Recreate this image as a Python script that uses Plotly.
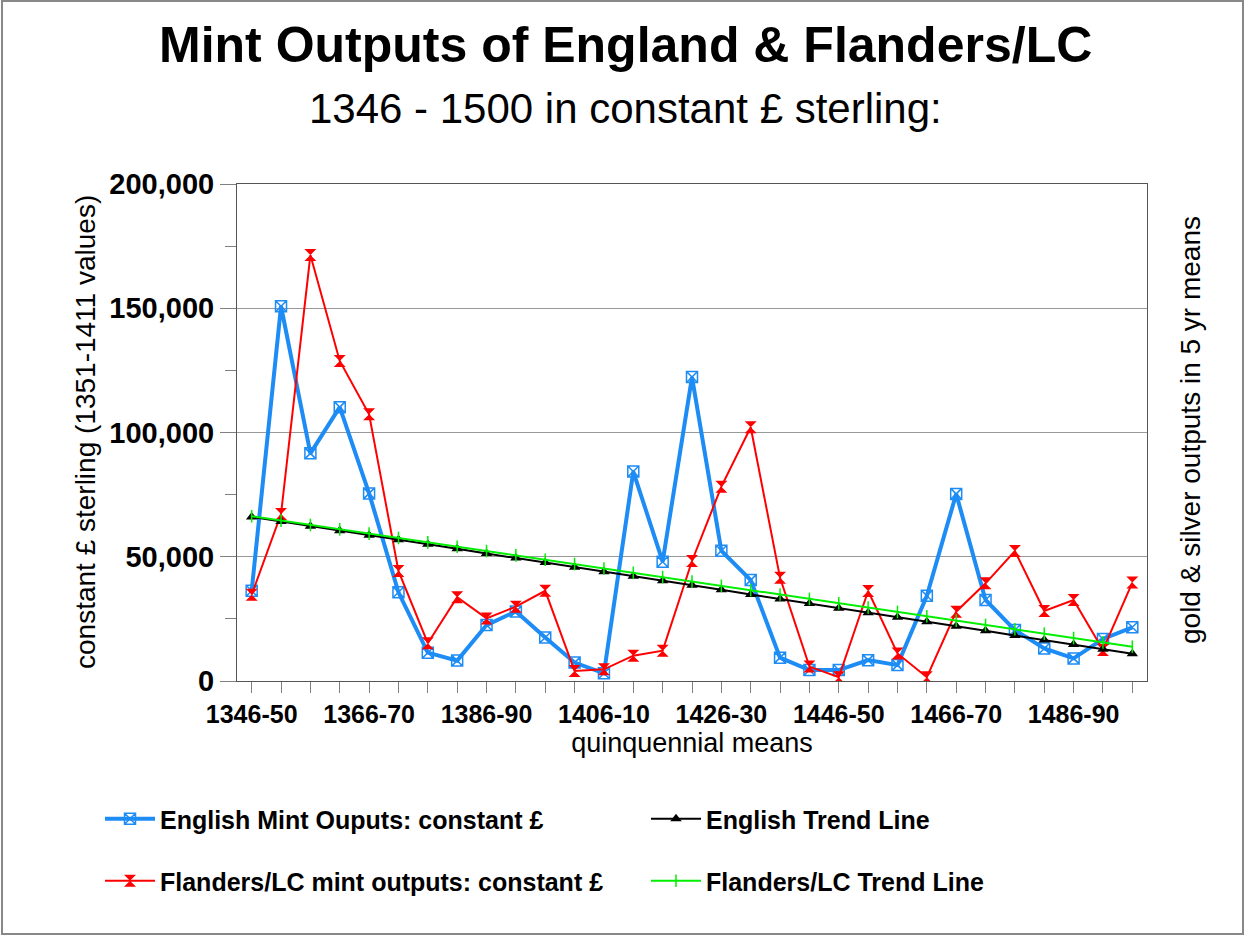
import plotly.graph_objects as go

periods = ["1346-50", "1351-55", "1356-60", "1361-65", "1366-70", "1371-75", "1376-80",
           "1381-85", "1386-90", "1391-95", "1396-1400", "1401-05", "1406-10", "1411-15",
           "1416-20", "1421-25", "1426-30", "1431-35", "1436-40", "1441-45", "1446-50",
           "1451-55", "1456-60", "1461-65", "1466-70", "1471-75", "1476-80", "1481-85",
           "1486-90", "1491-95", "1496-1500"]

english = [36300, 150800, 91600, 110200, 75500, 35700, 11400, 8200, 22500, 28000, 17500,
           7400, 3100, 84300, 48000, 122300, 52400, 40600, 9400, 4400, 4400, 8400, 6400,
           34300, 75300, 32600, 20500, 13100, 9100, 16900, 21600]

flanders = [34700, 67200, 171400, 128800, 107300, 44300, 15200, 33700, 25200, 29900, 36300,
            4000, 4700, 10200, 12200, 48300, 78200, 102100, 41500, 5800, 1500, 36200, 11100,
            1500, 27900, 39300, 52300, 28200, 32600, 12500, 39600]

english_trend = [66000, 64200, 62300, 60500, 58700, 56800, 55000, 53200, 51300, 49500, 47700,
                 45800, 44000, 42200, 40300, 38500, 36700, 34800, 33000, 31200, 29300, 27500,
                 25700, 23800, 22000, 20200, 18300, 16500, 14700, 12800, 11000]

flanders_trend = [66300, 64550, 62800, 61050, 59300, 57550, 55800, 54050, 52300, 50550, 48800,
                  47050, 45300, 43550, 41800, 40050, 38300, 36550, 34800, 33050, 31300, 29550,
                  27800, 26050, 24300, 22550, 20800, 19050, 17300, 15550, 13800]

tick_labels = {"1346-50", "1366-70", "1386-90", "1406-10", "1426-30", "1446-50", "1466-70", "1486-90"}

FONT = "Liberation Sans, Arial, sans-serif"

# plot area in pixels
L, R, T, B = 237, 1147, 184, 681
W, H = 1247, 936
PW, PH = R - L, B - T


def px(xp):
    return (xp - L) / PW


def py(yp):
    return (B - yp) / PH


fig = go.Figure()

fig.add_trace(go.Scatter(
    x=periods, y=english, name="English Mint Ouputs: constant £", mode="lines+markers",
    line=dict(color="#1e8cf5", width=4),
    marker=dict(symbol="square-x-open", size=11, color="#1e8cf5", line=dict(width=1.5, color="#1e8cf5")),
    legend="legend"))
fig.add_trace(go.Scatter(
    x=periods, y=flanders, name="Flanders/LC mint outputs: constant £", mode="lines+markers",
    line=dict(color="#ff0000", width=2),
    marker=dict(symbol="hourglass", size=12, color="#ff0000"),
    legend="legend2"))
fig.add_trace(go.Scatter(
    x=periods, y=english_trend, name="English Trend Line", mode="lines+markers",
    line=dict(color="#000000", width=2),
    marker=dict(symbol="triangle-up", size=10, color="#000000"),
    legend="legend3"))
fig.add_trace(go.Scatter(
    x=periods, y=flanders_trend, name="Flanders/LC Trend Line", mode="lines+markers",
    line=dict(color="#00ee00", width=2),
    marker=dict(symbol="line-ns", size=9, color="#00ee00", line=dict(width=1.5, color="#00ee00")),
    legend="legend4"))

fig.update_xaxes(
    type="category", categoryorder="array", categoryarray=periods,
    range=[-0.5, 30.5],
    tickmode="array", tickvals=periods,
    ticktext=[p if p in tick_labels else "" for p in periods],
    ticks="outside", ticklen=11, tickcolor="#808080", tickwidth=1,
    tickfont=dict(family=FONT, size=25, color="#000", weight="bold"),
    showline=True, linecolor="#555", linewidth=1, mirror=True,
    showgrid=False, zeroline=False,
    title=dict(text="quinquennial means", font=dict(family=FONT, size=27, color="#000"), standoff=6),
)
fig.update_yaxes(
    range=[0, 200000], tickvals=[0, 50000, 100000, 150000, 200000],
    ticktext=["0", "50,000", "100,000", "150,000", "200,000"],
    ticks="outside", ticklen=16, tickcolor="#808080", tickwidth=1,
    minor=dict(dtick=25000, tick0=0, ticks="outside", ticklen=11, tickcolor="#808080", showgrid=False),
    tickfont=dict(family=FONT, size=29, color="#000", weight="bold"),
    showline=True, linecolor="#555", linewidth=1, mirror=True,
    showgrid=True, gridcolor="#999999", gridwidth=1, zeroline=False,
)

annotations = [
    dict(text="<b>Mint Outputs of England & Flanders/LC</b>", x=px(625), y=py(45),
         xref="paper", yref="paper", showarrow=False, xanchor="center", yanchor="middle",
         font=dict(family=FONT, size=50, color="#000")),
    dict(text="1346 - 1500 in constant £ sterling:", x=px(625), y=py(108),
         xref="paper", yref="paper", showarrow=False, xanchor="center", yanchor="middle",
         font=dict(family=FONT, size=42, color="#000")),
    dict(text="constant £ sterling (1351-1411 values)", x=px(85), y=py(432),
         xref="paper", yref="paper", showarrow=False, xanchor="center", yanchor="middle",
         textangle=-90, font=dict(family=FONT, size=28, color="#000")),
    dict(text="gold & silver outputs in 5 yr means", x=px(1190), y=py(430),
         xref="paper", yref="paper", showarrow=False, xanchor="center", yanchor="middle",
         textangle=-90, font=dict(family=FONT, size=28, color="#000")),
]

legend_common = dict(
    orientation="h", xanchor="left", yanchor="middle",
    font=dict(family=FONT, size=25, color="#000", weight="bold"),
    bgcolor="rgba(0,0,0,0)", itemwidth=50,
)

fig.update_layout(
    width=W, height=H,
    margin=dict(l=L, r=W - R, t=T, b=H - B, autoexpand=False),
    paper_bgcolor="#ffffff", plot_bgcolor="#ffffff",
    showlegend=True,
    legend=dict(x=px(100), y=py(819), **legend_common),
    legend3=dict(x=px(646), y=py(819), **legend_common),
    legend2=dict(x=px(100), y=py(881), **legend_common),
    legend4=dict(x=px(646), y=py(881), **legend_common),
    annotations=annotations,
    shapes=[dict(type="rect", xref="paper", yref="paper",
                 x0=px(2), x1=px(1243), y0=py(934), y1=py(1),
                 line=dict(color="#888", width=2), fillcolor="rgba(0,0,0,0)", layer="below")],
)

fig.write_html("out.html", config={"displayModeBar": False},
               post_script="document.body.style.margin='0';document.body.style.overflow='hidden';")
